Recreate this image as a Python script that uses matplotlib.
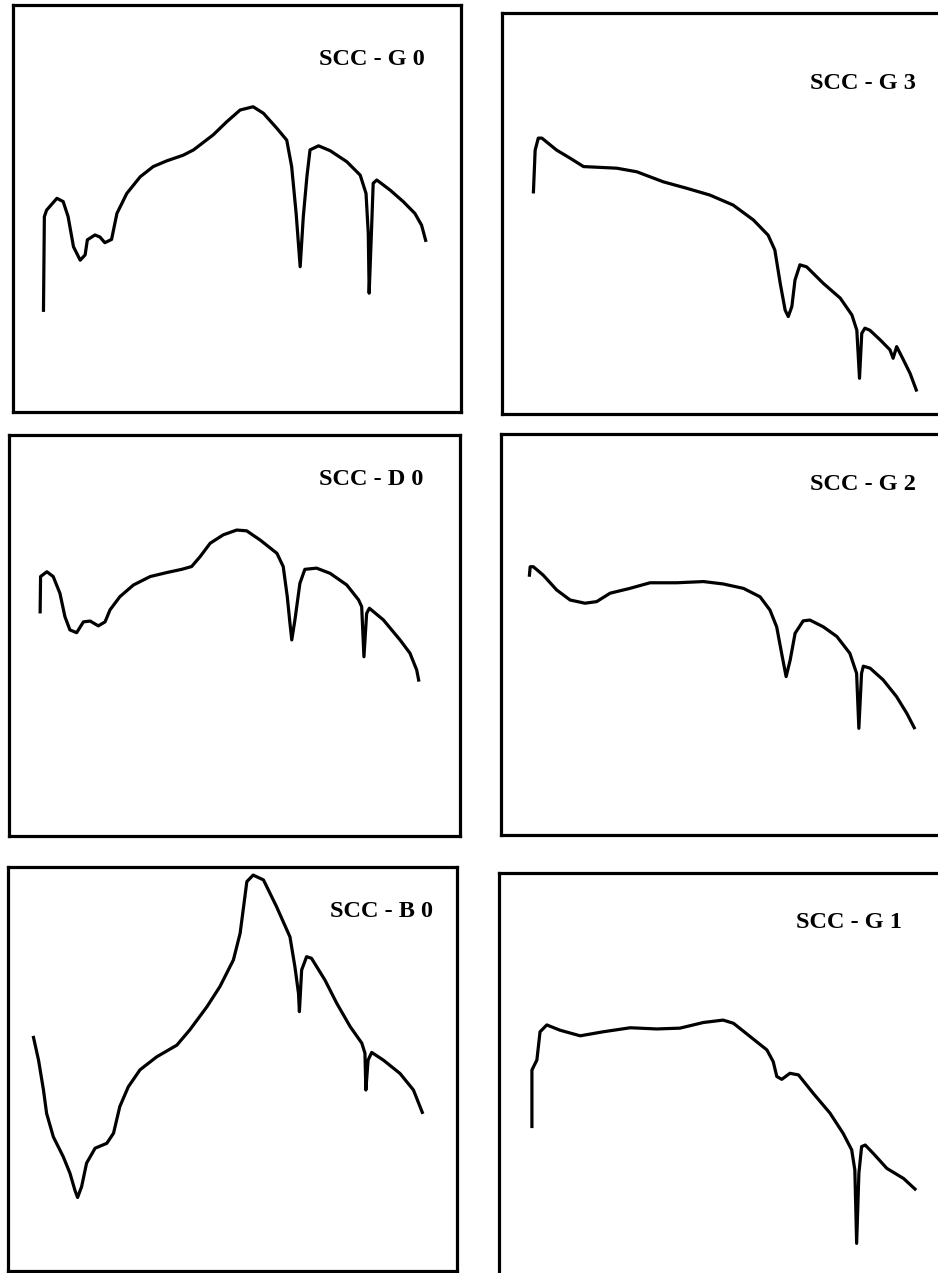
import matplotlib
matplotlib.use("Agg")
import matplotlib.pyplot as plt

# Six spectra, x and y in relative units (0-100) across each frame.
g0_x = [6.8, 7.0, 7.5, 9.8, 11.2, 12.3, 13.5, 15.0, 16.1, 16.6, 18.3, 19.4, 20.5, 22.0,
        23.2, 25.4, 28.4, 31.3, 34.3, 38.0, 40.3, 44.7, 47.7, 50.7, 53.6, 55.9, 58.9,
        61.1, 62.2, 63.2, 64.1, 64.8, 65.6, 66.3, 68.2, 70.8, 74.5, 77.5, 78.8, 79.3,
        79.5, 80.0, 80.4, 81.2, 84.2, 87.1, 89.7, 91.2, 92.2]
g0_y = [24.6, 48.0, 49.6, 52.5, 51.7, 48.0, 40.6, 37.3, 38.6, 42.3, 43.5, 43.0, 41.6, 42.4,
        48.8, 53.7, 57.8, 60.3, 61.7, 63.1, 64.4, 68.1, 71.3, 74.2, 75.0, 73.4, 69.7,
        66.8, 60.3, 48.8, 35.7, 48.0, 57.8, 64.4, 65.4, 64.2, 61.5, 58.2, 53.7, 43.9,
        29.2, 43.9, 56.2, 57.0, 54.5, 51.7, 48.8, 45.9, 41.8]

g3_x = [7.0, 7.4, 8.1, 8.9, 12.2, 15.2, 18.2, 25.6, 30.1, 36.0, 41.2, 46.4, 51.6, 56.1,
        59.4, 60.9, 62.1, 63.2, 63.9, 64.7, 65.4, 66.5, 68.0, 71.7, 75.5, 78.1, 79.2,
        79.8, 80.3, 81.0, 82.1, 84.4, 86.6, 87.3, 88.1, 89.6, 91.1, 92.6]
g3_y = [55.0, 65.8, 68.8, 68.8, 65.8, 63.8, 61.7, 61.3, 60.4, 57.9, 56.3, 54.6, 52.1, 48.4,
        44.6, 40.9, 32.6, 25.9, 24.3, 26.8, 33.4, 37.2, 36.7, 32.6, 28.9, 24.7, 20.9,
        8.9, 20.1, 21.4, 20.9, 18.5, 16.0, 13.9, 16.8, 13.5, 10.1, 5.6]

d0_x = [6.9, 7.0, 8.4, 9.8, 11.3, 12.4, 13.5, 15.0, 16.5, 18.0, 19.8, 21.3, 22.4, 24.6,
        27.6, 31.3, 35.0, 38.3, 40.5, 42.4, 44.6, 47.5, 50.5, 52.7, 55.7, 59.4, 60.8,
        61.7, 62.3, 62.7, 63.4, 64.5, 65.6, 68.2, 71.2, 74.9, 77.5, 78.2, 78.7, 79.3,
        79.9, 83.0, 86.7, 88.9, 90.4, 90.9]
d0_y = [55.5, 64.7, 65.9, 64.7, 60.5, 54.7, 51.4, 50.7, 53.4, 53.6, 52.4, 53.4, 56.4, 59.7,
        62.6, 64.7, 65.7, 66.5, 67.2, 69.7, 73.0, 75.1, 76.3, 76.1, 73.8, 70.5, 67.2,
        59.7, 53.0, 48.9, 53.9, 63.0, 66.5, 66.8, 65.5, 62.6, 58.9, 57.2, 44.7, 55.5,
        56.8, 53.9, 48.9, 45.6, 41.4, 38.5]

g2_x = [6.3, 6.5, 7.2, 9.4, 12.4, 15.4, 18.7, 21.3, 24.3, 28.7, 33.2, 39.1, 45.1, 49.5,
        54.0, 57.7, 59.9, 61.4, 62.5, 63.5, 64.4, 65.5, 67.3, 68.8, 71.8, 74.8, 77.7,
        79.2, 79.7, 80.3, 80.7, 82.2, 85.1, 88.1, 90.4, 92.2]
g2_y = [64.4, 66.9, 66.9, 64.8, 61.1, 58.6, 57.8, 58.2, 60.3, 61.5, 62.9, 62.9, 63.2, 62.6,
        61.5, 59.4, 56.1, 51.9, 45.3, 39.5, 43.6, 50.3, 53.4, 53.6, 51.9, 49.5, 45.3,
        40.3, 26.6, 40.3, 42.1, 41.6, 38.7, 34.5, 30.3, 26.4]

b0_x = [5.6, 6.8, 7.9, 8.6, 10.1, 12.3, 13.8, 14.9, 15.5, 16.4, 17.5, 19.4, 22.0, 23.5,
        24.9, 26.8, 29.4, 33.1, 37.6, 40.5, 44.3, 47.2, 50.2, 51.7, 53.2, 54.6, 56.9,
        59.8, 62.8, 63.9, 64.7, 64.9, 65.4, 66.5, 67.6, 70.6, 73.2, 76.2, 78.8, 79.5,
        79.7, 80.2, 81.0, 83.6, 87.3, 90.3, 92.4]
b0_y = [58.2, 52.2, 44.8, 39.0, 33.2, 28.3, 24.2, 20.0, 18.2, 20.9, 26.7, 30.4, 31.6, 34.1,
        40.7, 45.6, 49.8, 53.0, 55.9, 59.7, 65.4, 70.4, 77.0, 83.6, 96.4, 98.0, 96.8,
        90.2, 82.7, 75.3, 68.7, 64.2, 74.5, 77.8, 77.4, 72.0, 66.3, 60.5, 56.4, 53.9,
        44.8, 52.2, 54.1, 52.2, 48.9, 44.8, 38.9]

g1_x = [7.3, 7.3, 8.4, 9.1, 10.6, 13.5, 18.0, 23.1, 29.1, 35.0, 40.1, 45.3, 49.7, 52.0,
        55.7, 59.4, 60.8, 61.6, 62.7, 64.5, 66.4, 69.7, 73.4, 76.3, 78.2, 78.9, 79.3,
        79.8, 80.4, 81.2, 83.0, 86.0, 89.7, 92.5]
g1_y = [36.7, 51.1, 53.6, 60.6, 62.3, 61.0, 59.6, 60.6, 61.6, 61.3, 61.5, 62.9, 63.5, 62.7,
        59.4, 56.1, 53.2, 49.5, 48.8, 50.3, 49.9, 45.3, 40.4, 35.4, 31.3, 26.3, 8.1,
        25.5, 32.1, 32.5, 30.4, 26.7, 24.2, 21.3]

labels = ["SCC - G 0", "SCC - G 3", "SCC - D 0", "SCC - G 2", "SCC - B 0", "SCC - G 1"]
series = [(g0_x, g0_y), (g3_x, g3_y), (d0_x, d0_y), (g2_x, g2_y), (b0_x, b0_y), (g1_x, g1_y)]

W, H = 938, 1273
fig = plt.figure(figsize=(W / 100, H / 100), dpi=100)
fig.patch.set_facecolor("white")

# frame boxes: left, top, right, bottom (pixels)
frames = [(13, 5, 461, 412), (502, 13, 950, 414),
          (9, 435, 460, 836), (501, 434, 950, 835),
          (8, 867, 457, 1271), (499, 873, 950, 1276)]
label_pos = [(0.800, 0.865), (0.806, 0.825), (0.803, 0.888),
             (0.806, 0.873), (0.832, 0.889), (0.775, 0.876)]

for (l, t, r, b), (xs, ys), lab, (lx, ly) in zip(frames, series, labels, label_pos):
    ax = fig.add_axes([l / W, 1 - b / H, (r - l) / W, (b - t) / H])
    ax.plot(xs, ys, color="black", lw=2.3, solid_joinstyle="round",
            solid_capstyle="butt")
    ax.set_xlim(0, 100)
    ax.set_ylim(0, 100)
    ax.set_xticks([])
    ax.set_yticks([])
    for sp in ax.spines.values():
        sp.set_linewidth(2.3)
        sp.set_color("black")
    ax.text(lx, ly, lab, transform=ax.transAxes, ha="center", va="center",
            fontsize=17.5, family="Liberation Serif", fontweight="bold")

fig.savefig("out.png", dpi=100, facecolor="white")
